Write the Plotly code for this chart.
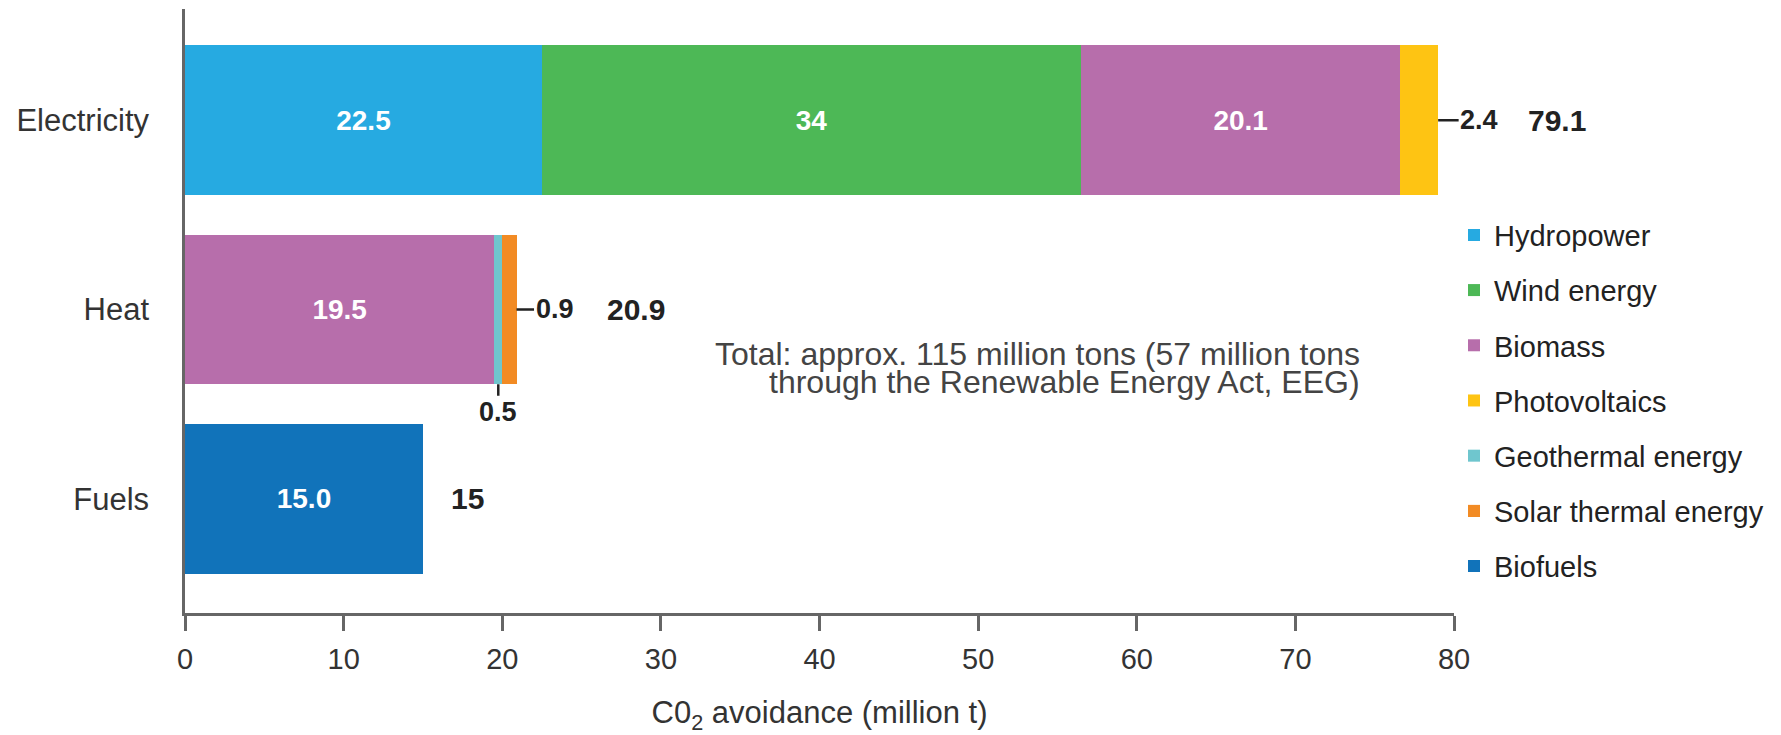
import plotly.graph_objects as go

# CO2 avoidance by renewable source and sector (million t)
sectors = ["Electricity", "Heat", "Fuels"]
sources = ["Hydropower", "Wind energy", "Biomass", "Photovoltaics",
           "Geothermal energy", "Solar thermal energy", "Biofuels"]
colors = ["#26AAE1", "#4DB856", "#B76EAB", "#FEC413", "#6FC6CE", "#F28B24", "#1173BA"]

hydropower = {"Electricity": 22.5}
wind_energy = {"Electricity": 34}
biomass = {"Electricity": 20.1, "Heat": 19.5}
photovoltaics = {"Electricity": 2.4}
geothermal = {"Heat": 0.5}
solar_thermal = {"Heat": 0.9}
biofuels = {"Fuels": 15.0}

series = [hydropower, wind_energy, biomass, photovoltaics, geothermal, solar_thermal, biofuels]

# labels printed inside the segments (small segments are labelled outside)
inside_labels = {
    "Hydropower": {"Electricity": "22.5"},
    "Wind energy": {"Electricity": "34"},
    "Biomass": {"Electricity": "20.1", "Heat": "19.5"},
    "Biofuels": {"Fuels": "15.0"},
}

sector_totals = {"Electricity": "79.1", "Heat": "20.9", "Fuels": "15"}

FONT = "Liberation Sans, Arial, sans-serif"
DARK = "#222222"
AXIS = "#666666"

fig = go.Figure()
for i, (name, data) in enumerate(zip(sources, series)):
    ys = list(data.keys())
    xs = list(data.values())
    labels = inside_labels.get(name)
    fig.add_trace(go.Bar(
        name=name, orientation="h", y=ys, x=xs,
        marker=dict(color=colors[i], line=dict(width=0)),
        text=[labels[s] for s in ys] if labels else None,
        textposition="inside" if labels else "none",
        insidetextanchor="middle", textangle=0, constraintext="none",
        textfont=dict(family=FONT, size=28, color="white", weight="bold"),
        legendgroup=name, width=0.79,
    ))

# stacked end of each sector bar
stack_end = {s: sum(d.get(s, 0) for d in series) for s in sectors}

ann = []
label_font = dict(family=FONT, size=27, color=DARK, weight="bold")
# small-segment values with a leader line
ann.append(dict(x=stack_end["Electricity"], y="Electricity", xref="x", yref="y",
                text=str(photovoltaics["Electricity"]), showarrow=True, arrowhead=0,
                arrowwidth=2.5, arrowcolor=DARK, ax=41, ay=0, font=label_font))
ann.append(dict(x=stack_end["Heat"], y="Heat", xref="x", yref="y",
                text=str(solar_thermal["Heat"]), showarrow=True, arrowhead=0,
                arrowwidth=2.5, arrowcolor=DARK, ax=38, ay=0, font=label_font))
ann.append(dict(x=biomass["Heat"] + geothermal["Heat"] / 2, y=1 - 0.395, xref="x", yref="y",
                text=str(geothermal["Heat"]), showarrow=True, arrowhead=0,
                arrowwidth=2.5, arrowcolor=DARK, ax=0, ay=28, font=label_font))
# sector totals
total_shift = {"Electricity": 88, "Heat": 88, "Fuels": 26}
for s in sectors:
    ann.append(dict(x=stack_end[s], y=s, xref="x", yref="y", text=sector_totals[s],
                    showarrow=False, xanchor="left", xshift=total_shift[s],
                    font=dict(family=FONT, size=30, color=DARK, weight="bold")))
# overall note
note_font = dict(family=FONT, size=32, color="#444444")
ann.append(dict(x=0.9275, y=0.4288, xref="paper", yref="paper", xanchor="right",
                text="Total: approx. 115 million tons (57 million tons",
                showarrow=False, font=note_font))
ann.append(dict(x=0.9275, y=0.3825, xref="paper", yref="paper", xanchor="right",
                text="through the Renewable Energy Act, EEG)",
                showarrow=False, font=note_font))

fig.update_layout(
    barmode="stack",
    width=1781, height=735,
    margin=dict(l=185, r=327, t=9, b=122, autoexpand=False),
    plot_bgcolor="white", paper_bgcolor="white",
    font=dict(family=FONT, size=28, color="#333333"),
    annotations=ann,
    legend=dict(x=1.0, y=0.668, xanchor="left", yanchor="top",
                traceorder="grouped", tracegroupgap=14.5,
                font=dict(family=FONT, size=29, color=DARK),
                bgcolor="rgba(0,0,0,0)"),
    xaxis=dict(range=[0, 80], tickvals=list(range(0, 81, 10)), automargin=False,
               showgrid=False, zeroline=False, showline=True, linecolor=AXIS, linewidth=2.5,
               ticks="outside", ticklen=15, tickwidth=2.5, tickcolor=AXIS,
               ticklabelstandoff=3,
               tickfont=dict(family=FONT, size=29, color="#333333"),
               title=dict(text="C0<sub>2</sub> avoidance (million t)", standoff=42,
                          font=dict(family=FONT, size=31, color="#333333"))),
    yaxis=dict(type="category", categoryorder="array", categoryarray=sectors[::-1],
               range=[-0.603, 2.587], automargin=False, showgrid=False, zeroline=False,
               showline=True, linecolor=AXIS, linewidth=2.5, ticks="",
               ticklabelstandoff=27,
               tickfont=dict(family=FONT, size=31, color="#333333")),
)

fig.write_html("out.html")
